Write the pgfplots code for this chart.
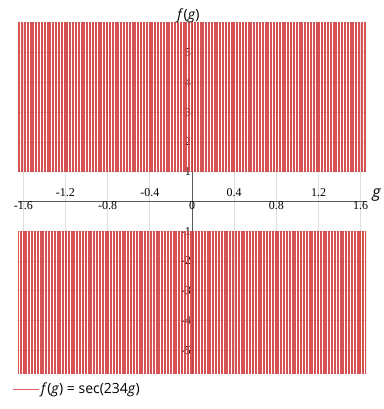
\documentclass[border=0pt]{standalone}
\usepackage{fontspec}
\setmainfont{Liberation Serif}
\newfontfamily\legfont{Open Sans}
\usepackage{pgfplots}
\pgfplotsset{compat=1.18}
\usepackage{pgfplotstable}
\definecolor{secred}{RGB}{210,58,58}
\definecolor{legred}{RGB}{220,95,95}
\definecolor{gridgray}{RGB}{222,222,222}
\definecolor{axgray}{RGB}{90,90,90}

% centres of the branches of f(g)=sec(234g): f=1 at the positive ones, f=-1 at the negative ones
\pgfplotstableread[row sep=\\]{
x y\\
0 1\\
0.0269 1\\ -0.0269 1\\ 0.0537 1\\ -0.0537 1\\ 0.0806 1\\ -0.0806 1\\ 0.1074 1\\ -0.1074 1\\
0.1343 1\\ -0.1343 1\\ 0.1611 1\\ -0.1611 1\\ 0.1880 1\\ -0.1880 1\\ 0.2148 1\\ -0.2148 1\\
0.2417 1\\ -0.2417 1\\ 0.2685 1\\ -0.2685 1\\ 0.2954 1\\ -0.2954 1\\ 0.3222 1\\ -0.3222 1\\
0.3491 1\\ -0.3491 1\\ 0.3759 1\\ -0.3759 1\\ 0.4028 1\\ -0.4028 1\\ 0.4296 1\\ -0.4296 1\\
0.4565 1\\ -0.4565 1\\ 0.4833 1\\ -0.4833 1\\ 0.5102 1\\ -0.5102 1\\ 0.5370 1\\ -0.5370 1\\
0.5639 1\\ -0.5639 1\\ 0.5907 1\\ -0.5907 1\\ 0.6176 1\\ -0.6176 1\\ 0.6444 1\\ -0.6444 1\\
0.6713 1\\ -0.6713 1\\ 0.6981 1\\ -0.6981 1\\ 0.7250 1\\ -0.7250 1\\ 0.7518 1\\ -0.7518 1\\
0.7787 1\\ -0.7787 1\\ 0.8055 1\\ -0.8055 1\\ 0.8324 1\\ -0.8324 1\\ 0.8592 1\\ -0.8592 1\\
0.8861 1\\ -0.8861 1\\ 0.9129 1\\ -0.9129 1\\ 0.9398 1\\ -0.9398 1\\ 0.9666 1\\ -0.9666 1\\
0.9935 1\\ -0.9935 1\\ 1.0203 1\\ -1.0203 1\\ 1.0472 1\\ -1.0472 1\\ 1.0740 1\\ -1.0740 1\\
1.1009 1\\ -1.1009 1\\ 1.1278 1\\ -1.1278 1\\ 1.1546 1\\ -1.1546 1\\ 1.1815 1\\ -1.1815 1\\
1.2083 1\\ -1.2083 1\\ 1.2352 1\\ -1.2352 1\\ 1.2620 1\\ -1.2620 1\\ 1.2889 1\\ -1.2889 1\\
1.3157 1\\ -1.3157 1\\ 1.3426 1\\ -1.3426 1\\ 1.3694 1\\ -1.3694 1\\ 1.3963 1\\ -1.3963 1\\
1.4231 1\\ -1.4231 1\\ 1.4500 1\\ -1.4500 1\\ 1.4768 1\\ -1.4768 1\\ 1.5037 1\\ -1.5037 1\\
1.5305 1\\ -1.5305 1\\ 1.5574 1\\ -1.5574 1\\ 1.5842 1\\ -1.5842 1\\ 1.6111 1\\ -1.6111 1\\
1.6379 1\\ -1.6379 1\\
}\posbranches

\pgfplotstableread[row sep=\\]{
x y\\
0.0134 -1\\ -0.0134 -1\\ 0.0403 -1\\ -0.0403 -1\\ 0.0671 -1\\ -0.0671 -1\\ 0.0940 -1\\ -0.0940 -1\\
0.1208 -1\\ -0.1208 -1\\ 0.1477 -1\\ -0.1477 -1\\ 0.1745 -1\\ -0.1745 -1\\ 0.2014 -1\\ -0.2014 -1\\
0.2282 -1\\ -0.2282 -1\\ 0.2551 -1\\ -0.2551 -1\\ 0.2819 -1\\ -0.2819 -1\\ 0.3088 -1\\ -0.3088 -1\\
0.3356 -1\\ -0.3356 -1\\ 0.3625 -1\\ -0.3625 -1\\ 0.3893 -1\\ -0.3893 -1\\ 0.4162 -1\\ -0.4162 -1\\
0.4430 -1\\ -0.4430 -1\\ 0.4699 -1\\ -0.4699 -1\\ 0.4967 -1\\ -0.4967 -1\\ 0.5236 -1\\ -0.5236 -1\\
0.5505 -1\\ -0.5505 -1\\ 0.5773 -1\\ -0.5773 -1\\ 0.6042 -1\\ -0.6042 -1\\ 0.6310 -1\\ -0.6310 -1\\
0.6579 -1\\ -0.6579 -1\\ 0.6847 -1\\ -0.6847 -1\\ 0.7116 -1\\ -0.7116 -1\\ 0.7384 -1\\ -0.7384 -1\\
0.7653 -1\\ -0.7653 -1\\ 0.7921 -1\\ -0.7921 -1\\ 0.8190 -1\\ -0.8190 -1\\ 0.8458 -1\\ -0.8458 -1\\
0.8727 -1\\ -0.8727 -1\\ 0.8995 -1\\ -0.8995 -1\\ 0.9264 -1\\ -0.9264 -1\\ 0.9532 -1\\ -0.9532 -1\\
0.9801 -1\\ -0.9801 -1\\ 1.0069 -1\\ -1.0069 -1\\ 1.0338 -1\\ -1.0338 -1\\ 1.0606 -1\\ -1.0606 -1\\
1.0875 -1\\ -1.0875 -1\\ 1.1143 -1\\ -1.1143 -1\\ 1.1412 -1\\ -1.1412 -1\\ 1.1680 -1\\ -1.1680 -1\\
1.1949 -1\\ -1.1949 -1\\ 1.2217 -1\\ -1.2217 -1\\ 1.2486 -1\\ -1.2486 -1\\ 1.2754 -1\\ -1.2754 -1\\
1.3023 -1\\ -1.3023 -1\\ 1.3291 -1\\ -1.3291 -1\\ 1.3560 -1\\ -1.3560 -1\\ 1.3828 -1\\ -1.3828 -1\\
1.4097 -1\\ -1.4097 -1\\ 1.4365 -1\\ -1.4365 -1\\ 1.4634 -1\\ -1.4634 -1\\ 1.4902 -1\\ -1.4902 -1\\
1.5171 -1\\ -1.5171 -1\\ 1.5439 -1\\ -1.5439 -1\\ 1.5708 -1\\ -1.5708 -1\\ 1.5976 -1\\ -1.5976 -1\\
1.6245 -1\\ -1.6245 -1\\ 1.6514 -1\\ -1.6514 -1\\
}\negbranches

\begin{document}
\begin{tikzpicture}
\begin{axis}[
  name=ax,
  set layers,
  width=348pt, height=351pt, scale only axis,
  xmin=-1.65, xmax=1.65, ymin=-5.8, ymax=6,
  axis lines=middle,
  axis line style={axgray, line width=0.8pt, -},
  xtick={-1.6,-0.8,0,0.8,1.6},
  extra x ticks={-1.2,-0.4,0.4,1.2},
  extra x tick style={grid=major, xticklabel style={yshift=13.3pt}},
  ytick={-5,-4,-3,-2,-1,1,2,3,4,5},
  grid=major,
  grid style={gridgray, line width=0.8pt},
  major tick length=0pt,
  hide obscured x ticks=false, hide obscured y ticks=false,
  /pgf/number format/assume math mode=true,
  tick label style={font=\fontsize{12}{14}\selectfont, text=black},
  xticklabel style={anchor=base, inner sep=0pt, yshift=-8.5pt},
  yticklabel style={anchor=base east, inner sep=0pt, xshift=-1pt, yshift=-4pt},
  title={\textit{f}(\textit{g})},
  title style={font=\legfont\fontsize{14}{16}\selectfont, at={(axis description cs:0.49,1)}, anchor=base, yshift=-3pt},
  xlabel={\textit{g}},
  xlabel style={font=\legfont\fontsize{16}{18}\selectfont, at={(axis description cs:1,0.4915)}, anchor=base, xshift=10.7pt, yshift=4pt},
  legend style={at={(axis description cs:0,0)}, anchor=north west, xshift=-5pt, yshift=-7pt,
    draw=none, fill=none, inner sep=0pt, font=\legfont\fontsize{14}{16}\selectfont,
    /tikz/every even column/.append style={column sep=7pt}},
  legend cell align=left,
  legend image code/.code={\fill[fill=legred, draw=none] (0pt,-0.7pt) rectangle (26pt,0.7pt);},
]
\addplot[draw=none, mark=none,
  error bars/.cd, y dir=plus, y fixed=6, error mark=none,
  error bar style={secred, line width=2pt, opacity=0.88}]
  table[x=x, y=y] {\posbranches};
\addlegendentry{\textit{f}(\textit{g}) = sec(234\textit{g})}
\addplot[forget plot, draw=none, mark=none,
  error bars/.cd, y dir=minus, y fixed=6, error mark=none,
  error bar style={secred, line width=2pt, opacity=0.88}]
  table[x=x, y=y] {\negbranches};
\end{axis}
\pgfresetboundingbox
\path ([xshift=-18pt,yshift=-35pt]ax.south west) rectangle ([xshift=18pt,yshift=23pt]ax.north east);
\end{tikzpicture}
\end{document}
